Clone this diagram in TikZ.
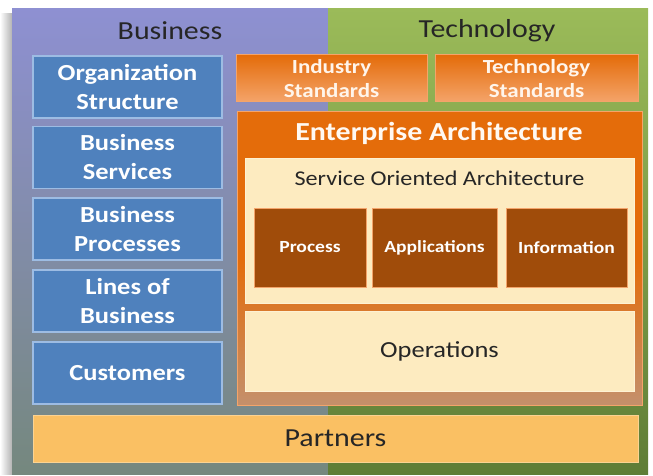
\documentclass[tikz,border=0pt]{standalone}
\usepackage{fontspec}
\setmainfont[FakeStretch=1.15]{Carlito}
\usepackage{tikz}
\definecolor{bizpurple}{HTML}{8E90D2}
\definecolor{bizgray}{HTML}{75887E}
\definecolor{techgreen}{HTML}{9BBB59}
\definecolor{techdark}{HTML}{5F7D36}
\definecolor{boxblue}{HTML}{4F81BD}
\definecolor{edgeblue}{HTML}{9DBCE3}
\definecolor{eaorange}{HTML}{E46C0A}
\definecolor{lightorange}{HTML}{F4A46A}
\definecolor{eatan}{HTML}{C4906C}
\definecolor{cream}{HTML}{FDEBC0}
\definecolor{rust}{HTML}{A04C0A}
\definecolor{partner}{HTML}{FAC063}
\definecolor{txtdark}{HTML}{262626}

\begin{document}
\begin{tikzpicture}[x=1pt,y=-1pt]
\tikzstyle{every node}+=[inner sep=0pt, align=center]
\tikzset{
  panel/.style={draw=none, anchor=north west},
  bizbox/.style={fill=boxblue, draw=edgeblue, line width=1.2pt, text=white, font=\fontsize{23}{29}\selectfont\bfseries, minimum width=189pt, minimum height=62pt},
  stdbox/.style={top color=eaorange, bottom color=lightorange, draw=lightorange, line width=1pt, text=white!92!orange, font=\fontsize{20}{24}\selectfont\bfseries},
  lightbox/.style={fill=cream, draw=cream!70!white, line width=1pt, text=txtdark, font=\fontsize{23}{26}\selectfont},
  soabox/.style={fill=rust, draw=lightorange, line width=1pt, text=white, font=\fontsize{17}{20}\selectfont\bfseries, minimum height=79pt}
}
\useasboundingbox (0,0) rectangle (653,476);
% shadow at the left
\shade[left color=white, right color=gray!60] (0,14) rectangle (12,474);
% the two panels
\node[panel, top color=bizpurple, bottom color=bizgray, minimum width=316pt, minimum height=466pt] (biz) at (12,8) {};
\node[panel, top color=techgreen, bottom color=techdark, minimum width=320pt, minimum height=466pt] (tech) at (328,8) {};
\node[font=\fontsize{26}{30}\selectfont, text=txtdark] (bizttl) at (170,31) {Business};
\node[font=\fontsize{26}{30}\selectfont, text=txtdark] (techttl) at (487,31) {Technology};
% business column
\node[bizbox] (org) at (127.5,87) {Organization\\Structure};
\node[bizbox] (bsvc) at (127.5,157.5) {Business\\Services};
\node[bizbox] (bproc) at (127.5,229) {Business\\Processes};
\node[bizbox] (lob) at (127.5,301) {Lines of\\Business};
\node[bizbox] (cust) at (127.5,373) {Customers};
% standards
\node[stdbox, minimum width=191pt, minimum height=47pt] (indstd) at (331.5,78.5) {Industry\\Standards};
\node[stdbox, minimum width=203pt, minimum height=47pt] (techstd) at (536.5,78.5) {Technology\\Standards};
% enterprise architecture
\node[panel, top color=eaorange, bottom color=eatan, middle color=eaorange, draw=lightorange, line width=1pt, minimum width=405pt, minimum height=294pt] (ea) at (237,111) {};
\node[font=\fontsize{26}{30}\selectfont\bfseries, text=white!95!orange] (eattl) at (439,133) {Enterprise Architecture};
\node[lightbox, minimum width=389pt, minimum height=145pt] (soa) at (439.5,230.5) {};
\node[font=\fontsize{21}{24}\selectfont, text=txtdark] (soattl) at (439.5,178) {Service Oriented Architecture};
\node[soabox, minimum width=112pt] (proc) at (310,247.5) {Process};
\node[soabox, minimum width=125pt] (apps) at (434.5,247.5) {Applications};
\node[soabox, minimum width=121pt] (info) at (566.5,247.5) {Information};
\node[lightbox, minimum width=389pt, minimum height=80pt] (ops) at (439.5,351.5) {Operations};
% partners
\node[fill=partner, draw=partner!70!white, line width=1pt, minimum width=605pt, minimum height=47pt, text=txtdark, font=\fontsize{26}{30}\selectfont] (partners) at (335.5,438.5) {Partners};
\end{tikzpicture}
\end{document}
